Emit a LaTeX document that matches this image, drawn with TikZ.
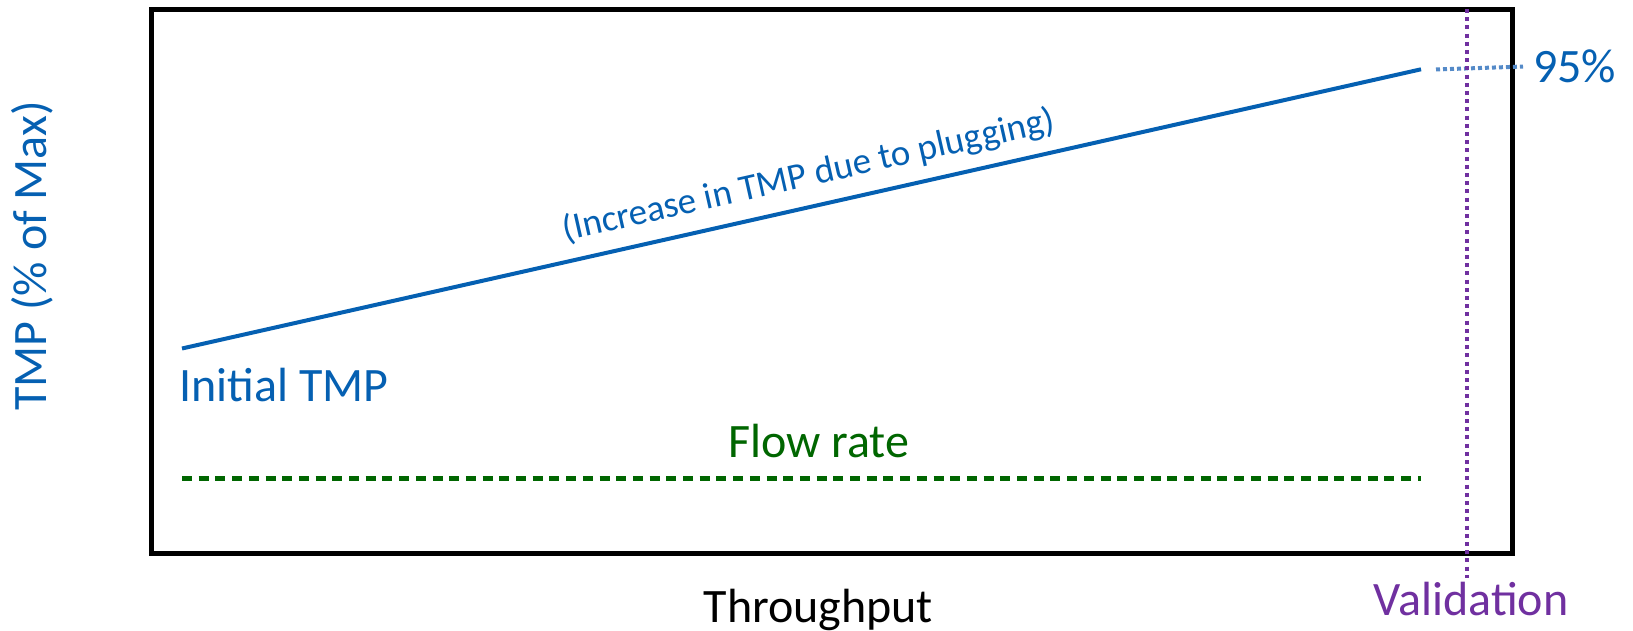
\documentclass[tikz,border=0pt]{standalone}
\usepackage{fontspec}
\setmainfont{Carlito}
\definecolor{tmpblue}{RGB}{5,96,178}
\definecolor{lightblue}{RGB}{84,138,200}
\definecolor{flowgreen}{RGB}{0,102,0}
\definecolor{valpurple}{RGB}{112,48,160}
\tikzset{
  big/.style={font=\fontsize{48}{57}\selectfont, inner sep=0pt},
  small/.style={font=\fontsize{37}{44}\selectfont, inner sep=0pt},
  frame/.style={draw=black, line width=4.5pt},
  tmpline/.style={draw=tmpblue, line width=4pt},
  flowline/.style={draw=flowgreen, line width=4.5pt, dash pattern=on 10pt off 6.7pt},
  leveldots/.style={draw=lightblue, line width=4pt, dash pattern=on 4pt off 3pt},
  valdots/.style={draw=valpurple, line width=4pt, dash pattern=on 4pt off 4.2pt}
}
\begin{document}
\begin{tikzpicture}[x=1pt,y=-1pt]
  \useasboundingbox (0,0) rectangle (1633,631);

  % plot frame
  \draw[frame] (151.5,9.5) rectangle (1512.5,553.5);

  % end points of the curves
  \coordinate (tmpstart) at (182,348.5);
  \coordinate (tmpend)   at (1421,69.3);
  \coordinate (flowstart) at (182,478.3);
  \coordinate (flowend)   at (1421,478.3);
  \coordinate (dotstart) at (1436,69.5);
  \coordinate (valtop) at (1466.7,9);
  \coordinate (valbot) at (1466.7,578);

  % TMP rising with plugging
  \draw[tmpline] (tmpstart) -- (tmpend)
    node[pos=0.511, sloped, above=12pt, small, text=tmpblue] (incr) {(Increase in TMP due to plugging)};

  % flow rate held constant
  \draw[flowline] (flowstart) -- (flowend);

  % labels
  \node[big, text=tmpblue, anchor=base west] (pct) at (1533,82.7) {95\%};
  \draw[leveldots] (dotstart) -- (pct.west -| 1523,0);
  \draw[valdots] (valtop) -- (valbot);

  \node[big, text=tmpblue, anchor=base west] (init) at (179,401.7) {Initial TMP};
  \node[big, text=flowgreen, anchor=base west] (flow) at (728,457.7) {Flow rate};
  \node[big, text=black, anchor=base west] (xlab) at (703.5,622.5) {Throughput};
  \node[big, text=valpurple, anchor=base west] (val) at (1373.5,615) {Validation};
  \node[big, text=tmpblue, anchor=base, rotate=90] (ylab) at (46.5,256) {TMP (\% of Max)};
\end{tikzpicture}
\end{document}
